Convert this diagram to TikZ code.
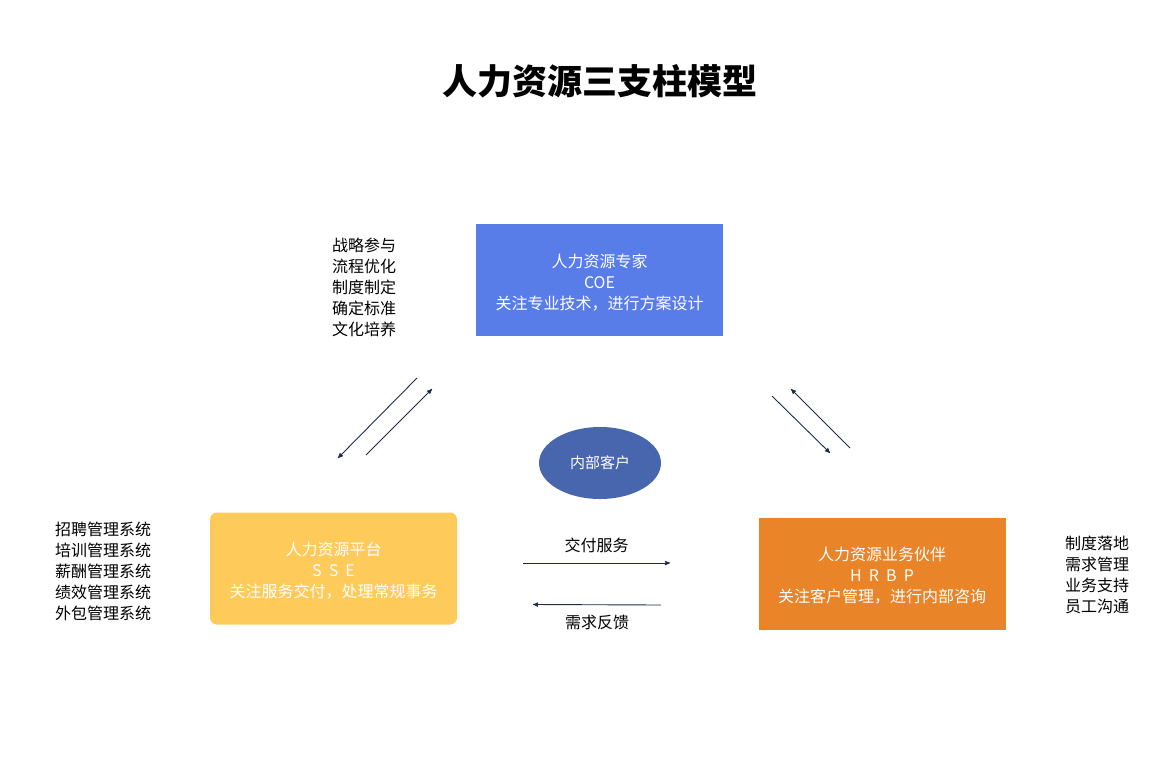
\documentclass[tikz,border=0pt]{standalone}
\usepackage{fontspec}
\setmainfont{Noto Sans CJK SC}
\usetikzlibrary{arrows,positioning,shapes.geometric}
\definecolor{coeblue}{HTML}{587CE8}
\definecolor{ssegold}{HTML}{FECB5A}
\definecolor{hrbporange}{HTML}{E98428}
\definecolor{clientblue}{HTML}{4866AE}
\definecolor{linknavy}{HTML}{1E2A48}
\tikzset{
    %Define standard arrow tip
    >=stealth',
    %Define style for boxes
    pillar/.style={
           rectangle,
           minimum width=247pt,
           minimum height=112pt,
           inner sep=0pt,
           },
    pillartext/.style={
           align=center,
           text=white,
           yshift=-2.5pt,
           font=\fontsize{16}{21}\selectfont,
           },
    client/.style={
           ellipse,
           minimum width=122pt,
           minimum height=72pt,
           fill=clientblue,
           text=white,
           font=\fontsize{15}{18}\selectfont,
           },
    tasks/.style={
           anchor=north west,
           align=left,
           inner sep=0pt,
           font=\fontsize{16}{21}\selectfont,
           },
    % Define arrow style
    link/.style={
           ->,
           draw=linknavy,
           line width=0.9pt,},
    linklabel/.style={ font=\fontsize{16}{20}\selectfont }
}
\begin{document}
\begin{tikzpicture}[x=1pt,y=-1pt]
\useasboundingbox (0,0) rectangle (1168,761);
\node[font=\fontsize{35}{40}\selectfont\bfseries](title) at (600,81){人力资源三支柱模型};
\node[pillar,fill=coeblue](coe) at (599.5,280){};
\node[pillartext](coetext) at (coe.center){人力资源专家\\COE\\关注专业技术，进行方案设计};
\node[pillar,fill=ssegold,rounded corners=7pt](sse) at (333.5,568.5){};
\node[pillartext](ssetext) at (sse.center){人力资源平台\\S\ \ S\ \ E\\关注服务交付，处理常规事务};
\node[pillar,fill=hrbporange](hrbp) at (882,573.5){};
\node[pillartext](hrbptext) at (hrbp.center){人力资源业务伙伴\\H\ \ R\ \ B\ \ P\\关注客户管理，进行内部咨询};
\node[client](inner) at (600,463){内部客户};
% task lists
\node[tasks](coetasks) at (332,238){战略参与\\流程优化\\制度制定\\确定标准\\文化培养};
\node[tasks](ssetasks) at (55,522){招聘管理系统\\培训管理系统\\薪酬管理系统\\绩效管理系统\\外包管理系统};
\node[tasks](hrbptasks) at (1065,536){制度落地\\需求管理\\业务支持\\员工沟通};
% arrow ends
\coordinate (l1a) at (417,378);
\coordinate (l1b) at (338,458);
\coordinate (l2a) at (366,455);
\coordinate (l2b) at (432,389);
\coordinate (r1a) at (772,396);
\coordinate (r1b) at (830,453);
\coordinate (r2a) at (850,448);
\coordinate (r2b) at (791,389);
\coordinate (d1a) at (523,563);
\coordinate (d1b) at (670,563);
\coordinate (d2a) at (661,605);
\coordinate (d2b) at (533,604.5);
\draw[link] (l1a) -- (l1b);
\draw[link] (l2a) -- (l2b);
\draw[link] (r1a) -- (r1b);
\draw[link] (r2a) -- (r2b);
\draw[link] (d1a) -- node[linklabel,above=6pt](deliver){交付服务} (d1b);
\draw[link] (d2a) -- node[linklabel,below=7pt](feedback){需求反馈} (d2b);
\end{tikzpicture}
\end{document}
